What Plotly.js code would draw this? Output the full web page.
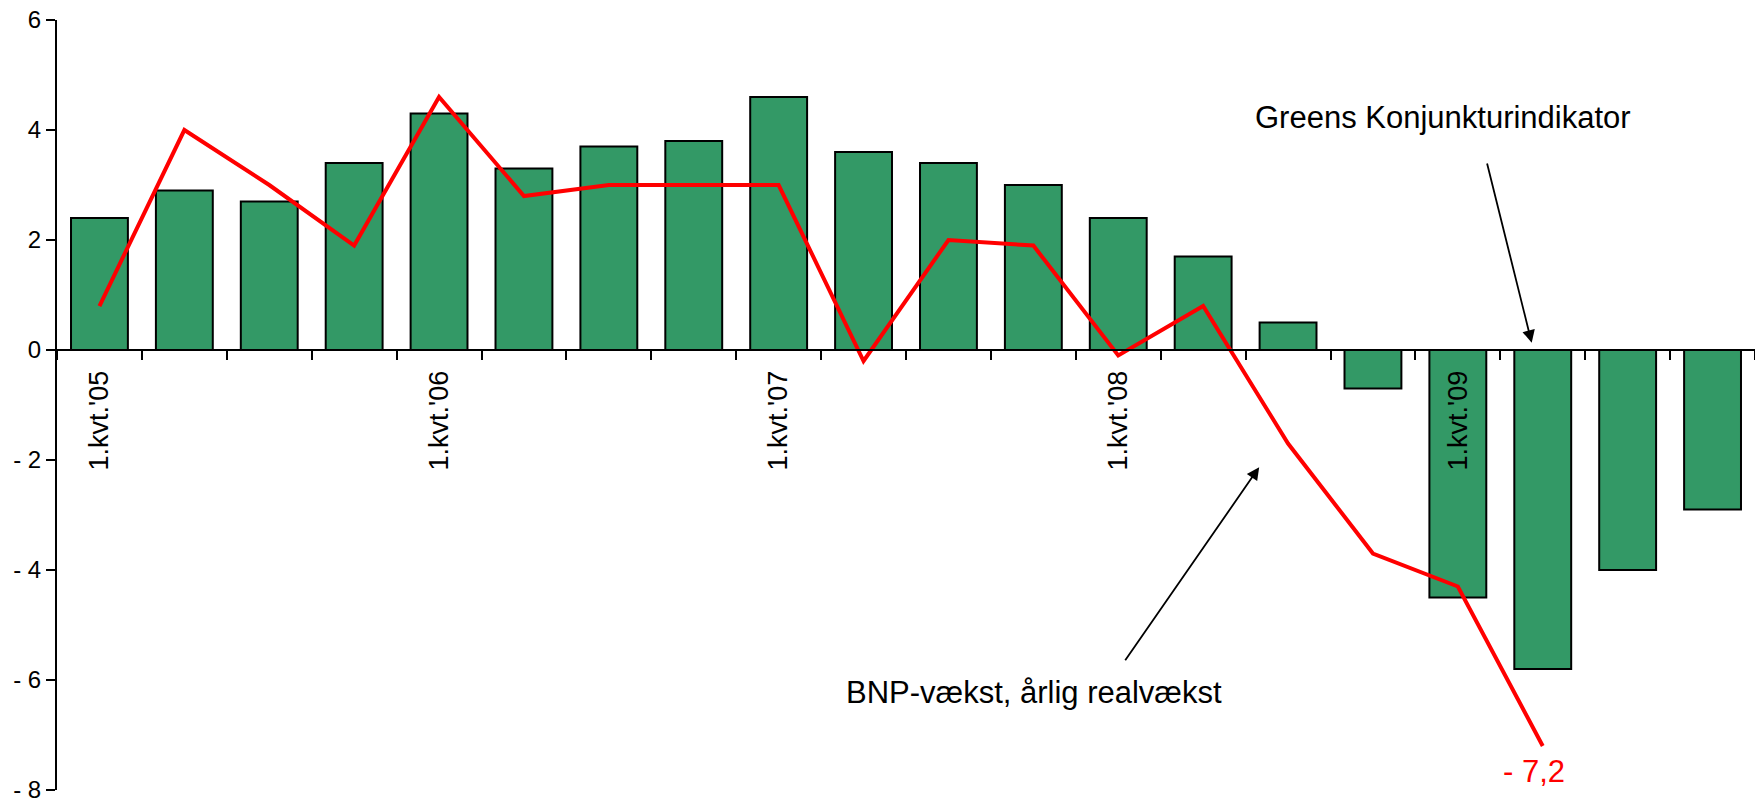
<!DOCTYPE html>
<html>
<head>
<meta charset="utf-8">
<script src="https://cdn.plot.ly/plotly-3.0.1.min.js"></script>
<style>
  html, body { margin: 0; padding: 0; background: #fff; }
  #chart { width: 1755px; height: 802px; }
</style>
</head>
<body>
<div id="chart"></div>
<script>
const quarters = [
  "1.kvt.'05", "2.kvt.'05", "3.kvt.'05", "4.kvt.'05",
  "1.kvt.'06", "2.kvt.'06", "3.kvt.'06", "4.kvt.'06",
  "1.kvt.'07", "2.kvt.'07", "3.kvt.'07", "4.kvt.'07",
  "1.kvt.'08", "2.kvt.'08", "3.kvt.'08", "4.kvt.'08",
  "1.kvt.'09", "2.kvt.'09", "3.kvt.'09", "4.kvt.'09"
];
const greensIndicator = [2.4, 2.9, 2.7, 3.4, 4.3, 3.3, 3.7, 3.8, 4.6, 3.6, 3.4, 3.0, 2.4, 1.7, 0.5, -0.7, -4.5, -5.8, -4.0, -2.9];
const gdpGrowth = [0.8, 4.0, 3.0, 1.9, 4.6, 2.8, 3.0, 3.0, 3.0, -0.2, 2.0, 1.9, -0.1, 0.8, -1.7, -3.7, -4.3, -7.2];
const labelledQuarters = ["1.kvt.'05", "1.kvt.'06", "1.kvt.'07", "1.kvt.'08", "1.kvt.'09"];
const yTicks = [-8, -6, -4, -2, 0, 2, 4, 6];

const idx = quarters.map((q, i) => i);
const font = "Arial, 'Liberation Sans', sans-serif";

const traces = [
  {
    type: 'bar',
    x: idx,
    y: greensIndicator,
    name: 'Greens Konjunkturindikator',
    marker: { color: '#339966', line: { color: '#000000', width: 2 } },
    width: 0.67,
    hoverinfo: 'x+y'
  },
  {
    type: 'scatter',
    mode: 'lines',
    x: idx.slice(0, gdpGrowth.length),
    y: gdpGrowth,
    name: 'BNP-vækst, årlig realvækst',
    line: { color: '#FF0000', width: 4 },
    hoverinfo: 'x+y'
  }
];

const boundaries = [];
for (let i = 0; i <= quarters.length; i++) boundaries.push(i - 0.5);

const layout = {
  width: 1755,
  height: 802,
  margin: { l: 57, r: 0, t: 20, b: 12 },
  paper_bgcolor: '#ffffff',
  plot_bgcolor: '#ffffff',
  showlegend: false,
  font: { family: font, color: '#000000', size: 24 },
  xaxis: {
    range: [-0.5, quarters.length - 0.5],
    anchor: 'free',
    position: 8 / 14,
    showline: true,
    linecolor: '#000000',
    linewidth: 2,
    showgrid: false,
    zeroline: false,
    tickmode: 'array',
    tickvals: labelledQuarters.map(q => quarters.indexOf(q)),
    ticktext: labelledQuarters,
    ticks: 'outside',
    ticklen: 9,
    tickcolor: 'rgba(0,0,0,0)',
    tickangle: -90,
    tickfont: { family: font, size: 27, color: '#000000' },
    minor: {
      tickmode: 'array',
      tickvals: boundaries,
      ticks: 'outside',
      ticklen: 9,
      tickwidth: 2,
      tickcolor: '#000000',
      showgrid: false
    },
    fixedrange: true
  },
  yaxis: {
    range: [-8.0005, 6.0005],
    showline: true,
    linecolor: '#000000',
    linewidth: 2,
    showgrid: false,
    zeroline: false,
    tickmode: 'array',
    tickvals: yTicks,
    ticktext: yTicks.map(v => String(v).replace('-', '- ')),
    ticks: 'outside',
    ticklen: 9,
    tickwidth: 2,
    tickcolor: '#000000',
    ticklabeloverflow: 'allow',
    tickfont: { family: font, size: 24, color: '#000000' },
    fixedrange: true
  },
  annotations: [
    {
      x: 15.82, y: 4.22, xref: 'x', yref: 'y',
      text: 'Greens Konjunkturindikator',
      showarrow: false,
      font: { family: font, size: 31, color: '#000000' }
    },
    {
      x: 16.87, y: 0.13, xref: 'x', yref: 'y',
      ax: 16.34, ay: 3.42, axref: 'x', ayref: 'y',
      text: '',
      showarrow: true,
      arrowhead: 2, arrowsize: 1.4, arrowwidth: 1.8, arrowcolor: '#000000',
      standoff: 0, startstandoff: 0
    },
    {
      x: 11.01, y: -6.22, xref: 'x', yref: 'y',
      text: 'BNP-vækst, årlig realvækst',
      showarrow: false,
      font: { family: font, size: 31, color: '#000000' }
    },
    {
      x: 13.66, y: -2.13, xref: 'x', yref: 'y',
      ax: 12.07, ay: -5.67, axref: 'x', ayref: 'y',
      text: '',
      showarrow: true,
      arrowhead: 2, arrowsize: 1.4, arrowwidth: 1.8, arrowcolor: '#000000',
      standoff: 0, startstandoff: 0
    },
    {
      x: 16.90, y: -7.67, xref: 'x', yref: 'y',
      text: '- 7,2',
      showarrow: false,
      font: { family: font, size: 31, color: '#FF0000' }
    }
  ]
};

Plotly.newPlot('chart', traces, layout, { displayModeBar: false, staticPlot: true });
</script>
</body>
</html>
